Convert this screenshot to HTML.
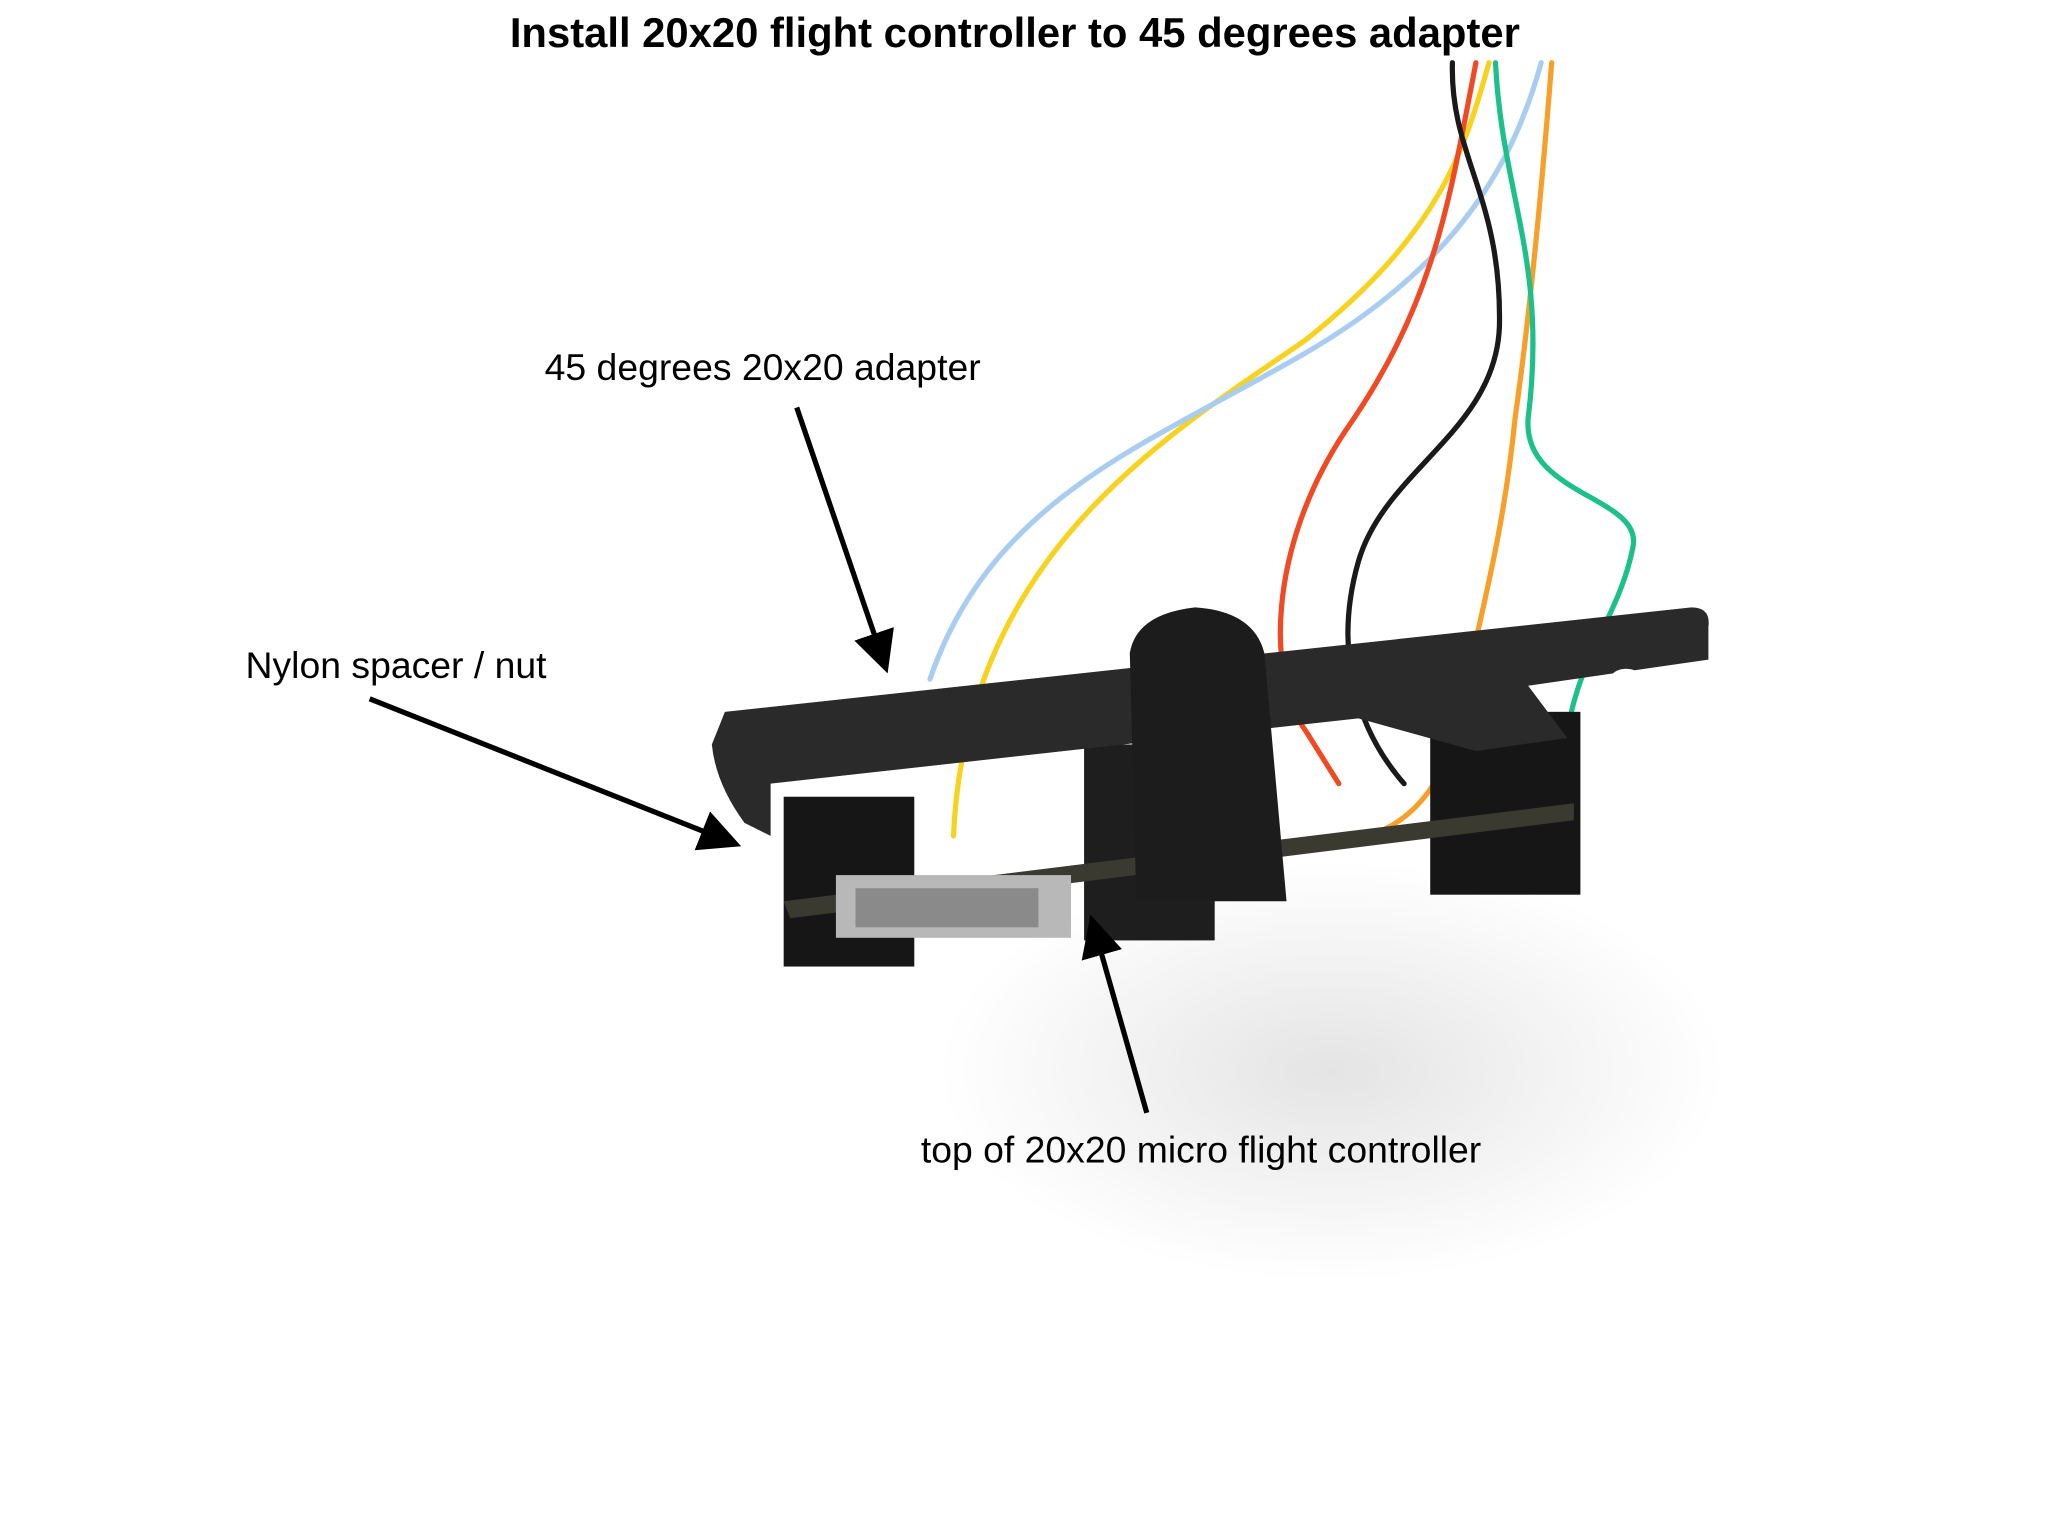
<!DOCTYPE html>
<html><head><meta charset="utf-8"><style>
html,body{margin:0;padding:0;background:#fff;}
svg{display:block;}
text{font-family:"Liberation Sans",sans-serif;fill:#000;}
</style></head><body>
<svg width="2048" height="1536" viewBox="0 0 1568 1176" xmlns="http://www.w3.org/2000/svg">
<defs>
<radialGradient id="sh" cx="0.5" cy="0.5" r="0.5">
<stop offset="0" stop-color="#e4e4e4"/><stop offset="1" stop-color="#fff"/>
</radialGradient>
<marker id="ah" markerWidth="8" markerHeight="8" refX="6" refY="4" orient="auto" markerUnits="strokeWidth">
<path d="M0,0 L8,4 L0,8 z" fill="#000"/></marker>
</defs>
<rect width="1568" height="1176" fill="#fff"/>
<ellipse cx="1020" cy="820" rx="300" ry="160" fill="url(#sh)"/>
<text x="777" y="36" font-size="32" font-weight="bold" text-anchor="middle">Install 20x20 flight controller to 45 degrees adapter</text>
<g fill="none" stroke-width="4" stroke-linecap="round">
<path d="M1140,48 C1120,120 1100,180 1000,260 C900,330 740,420 730,640" stroke="#f7d21e"/>
<path d="M1180,48 C1160,120 1120,200 1000,270 C880,340 760,380 712,520" stroke="#a9cdf0"/>
<path d="M1130,48 C1110,150 1100,230 1030,330 C970,420 970,520 1000,560 L1025,600" stroke="#f04a24"/>
<path d="M1112,48 C1110,120 1150,150 1148,250 C1145,330 1060,360 1040,430 C1020,500 1040,560 1075,600" stroke="#1a1a1a"/>
<path d="M1188,48 C1180,150 1170,250 1160,320 C1150,420 1130,480 1120,540 C1110,590 1090,620 1060,635" stroke="#f6a02a"/>
<path d="M1145,48 C1150,150 1185,200 1170,320 C1165,380 1260,380 1250,420 C1240,470 1210,500 1200,560 C1190,610 1160,630 1140,635" stroke="#1cc08a"/>
</g>
<rect x="600" y="610" width="100" height="130" fill="#161616"/>
<rect x="1095" y="545" width="115" height="140" fill="#161616"/>
<rect x="830" y="570" width="100" height="150" fill="#1e1e1e"/>
<path d="M600,690 L1205,615 L1205,628 L605,703 z" fill="#3a3a30"/>
<rect x="640" y="670" width="180" height="48" fill="#b8b8b8"/>
<rect x="655" y="680" width="140" height="30" fill="#8a8a8a"/>
<path d="M555,545 L1295,465 Q1310,465 1308,480 L1308,505 L1170,525 L1200,565 L1130,575 L1040,550 L590,600 L590,640 L570,630 Q548,600 545,570 Z" fill="#2a2a2a"/>
<path d="M865,500 Q870,470 915,465 Q960,468 968,500 L985,690 L870,690 Z" fill="#1c1c1c"/>
<ellipse cx="1245" cy="520" rx="12" ry="8" fill="#fff"/>
<text x="417" y="291" font-size="28.6">45 degrees 20x20 adapter</text>
<text x="188" y="519" font-size="28.6">Nylon spacer / nut</text>
<text x="705" y="890" font-size="28.6">top of 20x20 micro flight controller</text>
<g stroke="#000" stroke-width="4" fill="none">
<line x1="610" y1="312" x2="677" y2="508" marker-end="url(#ah)"/>
<line x1="283" y1="535" x2="560" y2="645" marker-end="url(#ah)"/>
<line x1="878" y1="852" x2="837" y2="708" marker-end="url(#ah)"/>
</g>
</svg>
</body></html>
